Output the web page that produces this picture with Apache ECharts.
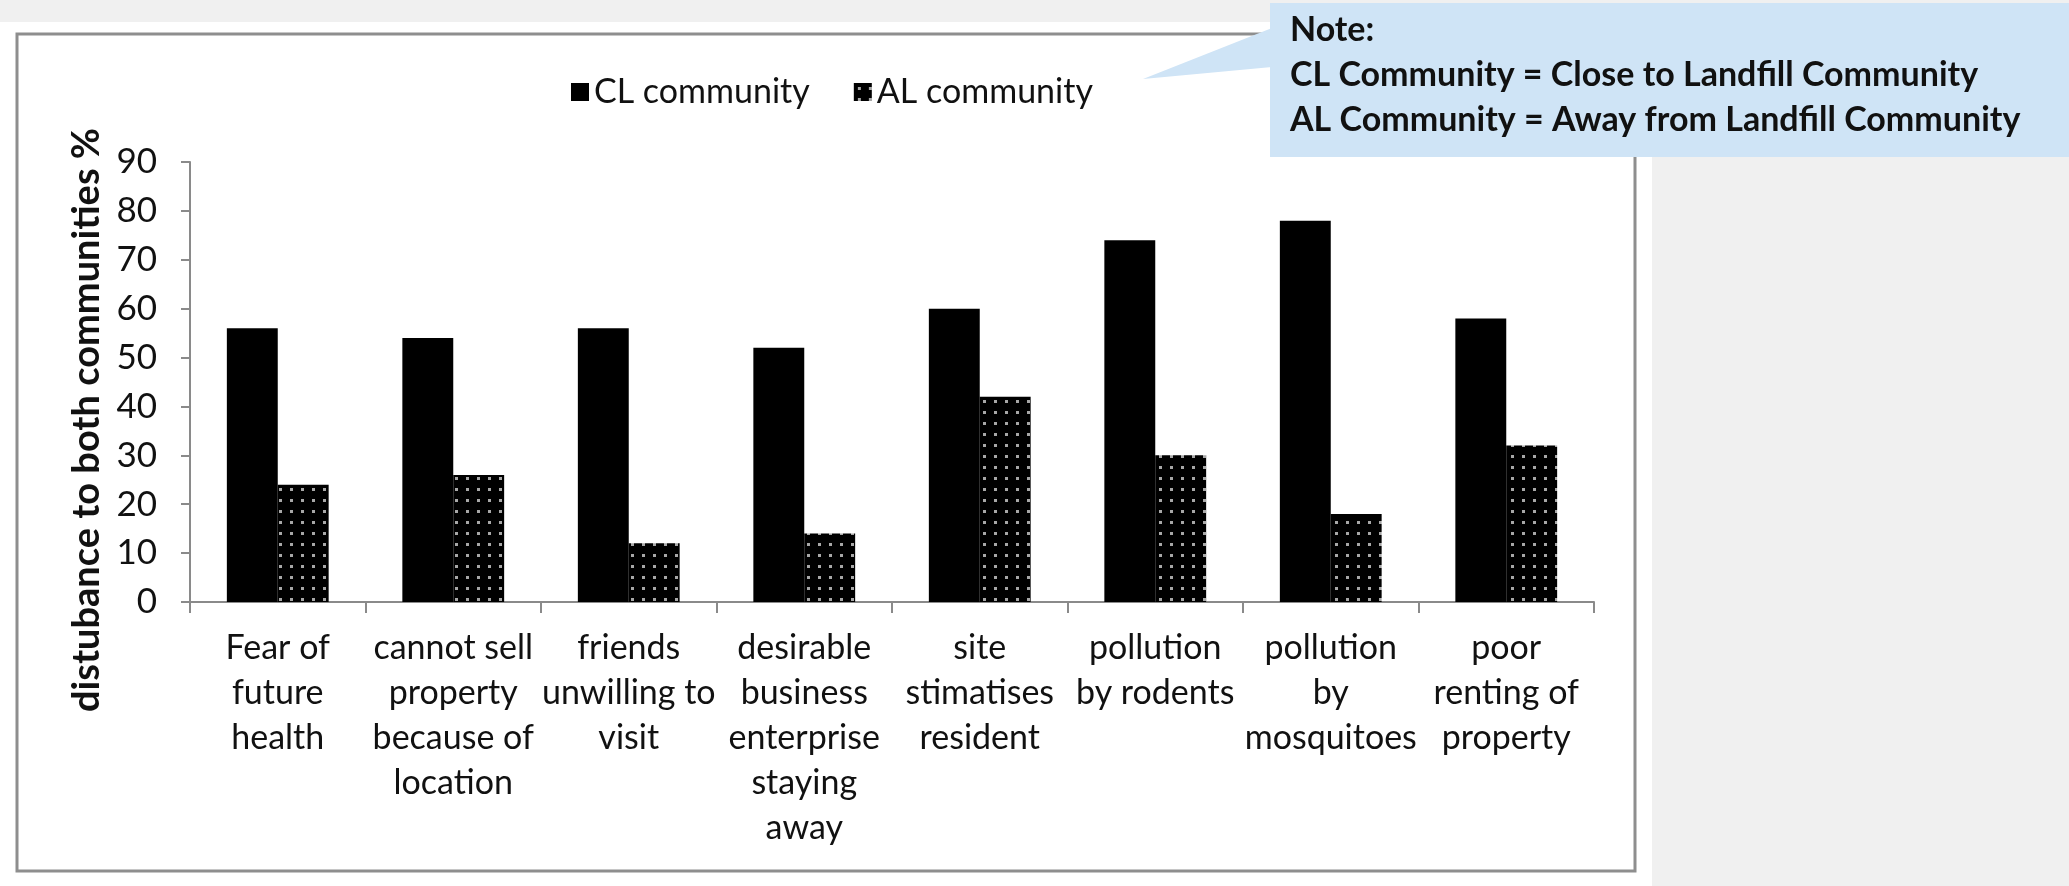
<!DOCTYPE html>
<html>
<head>
<meta charset="utf-8">
<script src="https://cdn.jsdelivr.net/npm/echarts@6/dist/echarts.min.js"></script>
<style>
  html, body { margin: 0; padding: 0; background: #f0f0f0; }
  #chart { width: 2069px; height: 886px; }
</style>
</head>
<body>
<div id="chart"></div>
<script>
var categories = [
  'Fear of\nfuture\nhealth',
  'cannot sell\nproperty\nbecause of\nlocation',
  'friends\nunwilling to\nvisit',
  'desirable\nbusiness\nenterprise\nstaying\naway',
  'site\nstimatises\nresident',
  'pollution\nby rodents',
  'pollution\nby\nmosquitoes',
  'poor\nrenting of\nproperty'
];
var clValues = [56, 54, 56, 52, 60, 74, 78, 58];
var alValues = [24, 26, 12, 14, 42, 30, 18, 32];
var seriesNames = ['CL community', 'AL community'];
var yAxisTitle = 'distubance to both communities %';
var noteLines = [
  'Note:',
  'CL Community = Close to Landfill Community',
  'AL Community = Away from Landfill Community'
];

var FONT = 'Lato, "Open Sans", sans-serif';

// black fill with a grid of small grey dots, like the AL bars
function dotPattern() {
  var c = document.createElement('canvas');
  c.width = 11;
  c.height = 11;
  var ctx = c.getContext('2d');
  ctx.fillStyle = '#000';
  ctx.fillRect(0, 0, 11, 11);
  ctx.fillStyle = '#a8a8a8';
  ctx.fillRect(4, 4, 3, 3);
  return c;
}

var chart = echarts.init(document.getElementById('chart'), null, {renderer: 'canvas'});

chart.setOption({
  animation: false,
  backgroundColor: '#f0f0f0',
  textStyle: { fontFamily: FONT },
  graphic: [
    { type: 'rect', z: -10, shape: { x: 0, y: 22, width: 1652, height: 864 }, style: { fill: '#fff' } },
    { type: 'rect', z: -9, shape: { x: 17, y: 34, width: 1618, height: 837 }, style: { fill: 'none', stroke: '#8e8e8e', lineWidth: 3 } },
    { type: 'polygon', z: 100, shape: { points: [[1272, 28], [1143, 79], [1272, 67]] }, style: { fill: '#cfe4f6' } },
    { type: 'rect', z: 100, shape: { x: 1270, y: 3, width: 799, height: 154 }, style: { fill: '#cfe4f6' } },
    { type: 'text', z: 101, x: 1290, y: 47, style: { text: noteLines[0], font: 'bold 34px ' + FONT, fill: '#111', textVerticalAlign: 'bottom' } },
    { type: 'text', z: 101, x: 1290, y: 92, style: { text: noteLines[1], font: 'bold 34px ' + FONT, fill: '#111', textVerticalAlign: 'bottom' } },
    { type: 'text', z: 101, x: 1290, y: 137, style: { text: noteLines[2], font: 'bold 34px ' + FONT, fill: '#111', textVerticalAlign: 'bottom' } }
  ],
  legend: {
    left: 566,
    top: 70,
    itemWidth: 18,
    itemHeight: 18,
    itemGap: 44,
    icon: 'rect',
    data: seriesNames,
    textStyle: { fontSize: 34, color: '#111', fontFamily: FONT }
  },
  grid: {
    left: 190,
    right: 475,
    top: 162,
    bottom: 284,
    containLabel: false
  },
  xAxis: {
    type: 'category',
    data: categories,
    axisLine: { show: true, lineStyle: { color: '#8a8a8a', width: 2 } },
    axisTick: { show: true, length: 11, interval: 0, alignWithLabel: false, lineStyle: { color: '#8a8a8a', width: 2 } },
    axisLabel: { interval: 0, fontSize: 34, lineHeight: 45, margin: 24, color: '#111', fontFamily: FONT }
  },
  yAxis: {
    type: 'value',
    min: 0,
    max: 90,
    interval: 10,
    name: yAxisTitle,
    nameLocation: 'middle',
    nameGap: 84,
    nameTextStyle: { fontSize: 38, fontWeight: 'bold', color: '#111', fontFamily: FONT, padding: [0, 76, 0, 0] },
    axisLine: { show: true, lineStyle: { color: '#8a8a8a', width: 2 } },
    axisTick: { show: true, length: 9, lineStyle: { color: '#8a8a8a', width: 2 } },
    axisLabel: { fontSize: 35, margin: 33, color: '#111', fontFamily: FONT },
    splitLine: { show: false }
  },
  series: [
    {
      name: seriesNames[0],
      type: 'bar',
      data: clValues,
      barWidth: '29%',
      barGap: '0%',
      itemStyle: { color: '#000' }
    },
    {
      name: seriesNames[1],
      type: 'bar',
      data: alValues,
      barWidth: '29%',
      barGap: '0%',
      itemStyle: { color: { image: dotPattern(), repeat: 'repeat' } }
    }
  ]
});
</script>
</body>
</html>
